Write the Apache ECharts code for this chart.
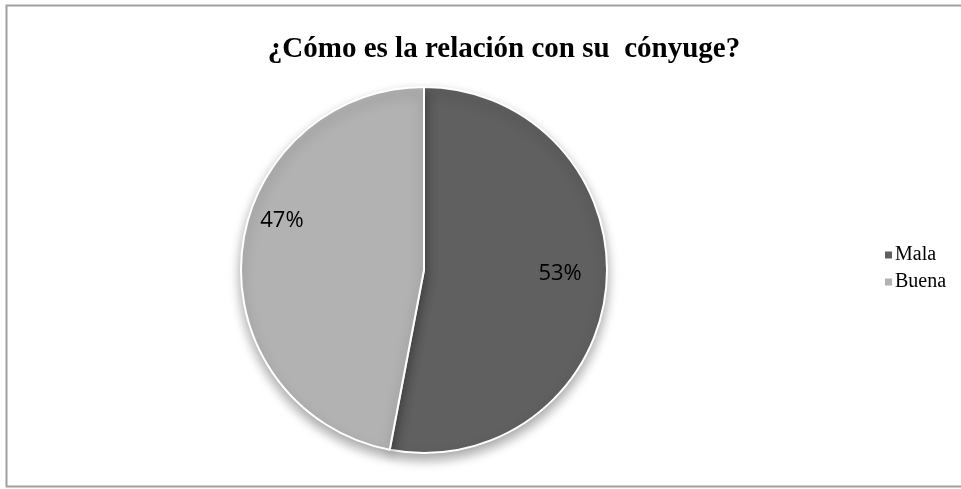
<!DOCTYPE html>
<html><head><meta charset="utf-8">
<script src="https://cdn.jsdelivr.net/npm/echarts@6/dist/echarts.min.js"></script>
<style>html,body{margin:0;padding:0;background:#fff}#c{width:961px;height:489px}</style>
</head><body><div id="c"></div>
<script>
const titleText = '¿Cómo es la relación con su  cónyuge?';
const categories = ['Mala', 'Buena'];
const values = [53, 47];
const colors = ['#606060', '#b2b2b2'];

const chart = echarts.init(document.getElementById('c'));
chart.setOption({
  animation: false,
  title: {
    text: titleText, left: 499, top: 30, textAlign: 'center',
    textStyle: {fontFamily: 'Liberation Serif', fontWeight: 'bold', fontSize: 29, color: '#000'}
  },
  legend: {
    orient: 'vertical', left: 878, top: 240, itemWidth: 9, itemHeight: 9, itemGap: 7,
    icon: 'rect',
    textStyle: {fontFamily: 'Liberation Serif', fontSize: 20, color: '#000', padding: [0,0,0,-3]},
    data: categories
  },
  graphic: [{type: 'rect', shape: {x: 6.5, y: 5.5, width: 960, height: 481}, style: {fill: 'none', stroke: '#a0a0a0', lineWidth: 2}, silent: true}],
  series: [{
    type: 'pie', center: [424, 270], radius: 183, startAngle: 90, clockwise: true,
    color: colors,
    itemStyle: {borderColor: '#fff', borderWidth: 2, shadowBlur: 12, shadowOffsetY: 6, shadowColor: 'rgba(0,0,0,0.35)'},
    label: {position: 'inner', formatter: '{d}%', fontFamily: 'Open Sans', fontSize: 22, color: '#000'},
    labelLayout: function (p) { return p.dataIndex === 0 ? {dx: 42, dy: -5} : {dx: -48, dy: -40}; },
    emphasis: {disabled: true},
    data: categories.map((n, i) => ({name: n, value: values[i]}))
  }]
});
</script></body></html>
